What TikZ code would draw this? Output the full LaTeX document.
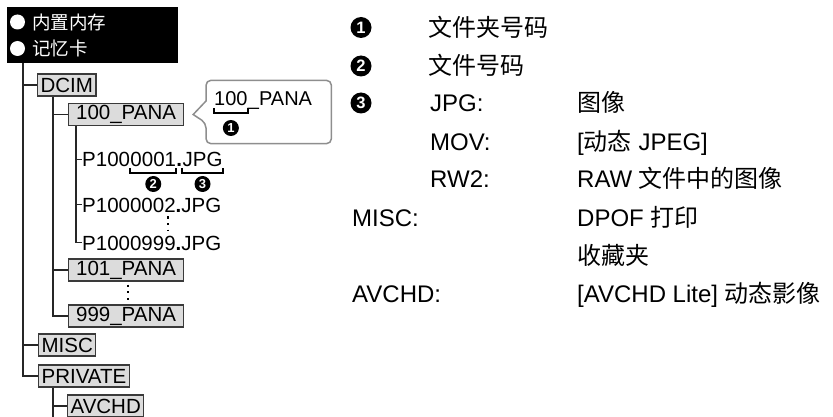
\documentclass[tikz,border=0pt]{standalone}
\usepackage{fontspec}
\setmainfont{Liberation Sans}
\newfontfamily\cjk{Noto Sans CJK SC}
\usetikzlibrary{positioning}
\definecolor{boxgray}{HTML}{DCDCDC}
\definecolor{edgegray}{HTML}{3A3A3A}
\definecolor{callgray}{HTML}{8E8E8E}
\newcommand{\fsz}[1]{\fontsize{#1}{#1}\selectfont}

\begin{document}
\begin{tikzpicture}[
  x=1pt, y=1pt,
  tree/.style={line width=1.1pt, draw=black!85},
  folder/.style={draw=edgegray, fill=boxgray, line width=1.2pt, inner xsep=3pt, inner ysep=0pt, minimum height=22pt, anchor=west, font=\fsz{20.5}},
  pana/.style={folder, minimum width=115pt},
  fname/.style={inner sep=0pt, anchor=base west, font=\fsz{20.5}},
  numsm/.style={circle, fill=black, text=white, inner sep=0pt, minimum size=16pt, font=\fsz{13}\bfseries},
  numbig/.style={circle, fill=black, text=white, inner sep=0pt, minimum size=21pt, font=\fsz{16.5}\bfseries},
  brk/.style={line width=1.9pt},
  vdots/.style={line width=2.2pt, dash pattern=on 2.2pt off 4.4pt},
  lbl/.style={inner sep=0pt, anchor=base west, font=\fsz{24}},
  hdrtxt/.style={inner sep=0pt, anchor=west, text=white, font=\fsz{18.5}\cjk},
  hdrdot/.style={circle, fill=white, inner sep=0pt, minimum size=15pt},
  callout/.style={draw=callgray, line width=1.5pt, fill=white}
]
\useasboundingbox (0,0) rectangle (833,-417);

% header
\node[fill=black, minimum width=171pt, minimum height=56pt, inner sep=0pt, anchor=north west] (hdr) at (7,-7) {};
\node[hdrdot] (dot1) at (17.5,-22) {};
\node[hdrdot] (dot2) at (17.5,-48.5) {};
\node[hdrtxt] (mem) at (32,-22) {内置内存};
\node[hdrtxt] (card) at (32,-48.5) {记忆卡};

% folders
\node[folder] (dcim) at (37,-85) {DCIM};
\node[pana] (p100) at (68,-114.5) {100\_PANA};
\node[pana] (p101) at (68,-270) {101\_PANA};
\node[pana] (p999) at (68,-316) {999\_PANA};
\node[folder] (misc) at (38,-345) {MISC};
\node[folder] (priv) at (38,-376) {PRIVATE};
\node[folder] (avchd) at (67,-406) {AVCHD};

% files
\node[fname] (f1a) at (82,-167) {P100};
\node[fname] (f1b) at (f1a.base east) {0001};
\node[fname, font=\fsz{20.5}\bfseries] (f1c) at (f1b.base east) {.};
\node[fname] (f1d) at (f1c.base east) {JPG};
\node[fname] (f2) at (82,-212) {P1000002{\bfseries.}JPG};
\node[fname] (f3) at (82,-250) {P1000999{\bfseries.}JPG};

% tree
\coordinate (t0) at ([xshift=16pt]hdr.south west);
\coordinate (t1) at ([xshift=16pt]dcim.south west);
\coordinate (t2) at ([xshift=8pt]p100.south west);
\coordinate (t3) at ([xshift=15pt]priv.south west);
\coordinate (bot) at (0,-417);
\draw[tree] (t0) |- (priv.west);
\draw[tree] (dcim.west -| t0) -- (dcim.west);
\draw[tree] (misc.west -| t0) -- (misc.west);
\draw[tree] (t1) |- (p999.west);
\draw[tree] (p100.west -| t1) -- (p100.west);
\draw[tree] (p101.west -| t1) -- (p101.west);
\draw[tree] (t2) |- (f3.west);
\draw[tree] (f1a.west -| t2) -- (f1a.west);
\draw[tree] (f2.west -| t2) -- (f2.west);
\draw[tree] (t3) -- (t3 |- bot);
\draw[tree] (avchd.west -| t3) -- (avchd.west);

\draw[vdots] ([xshift=86pt,yshift=-4pt]f2.south west) -- ([xshift=86pt,yshift=4pt]f3.north west);
\draw[vdots] ([xshift=60pt,yshift=-3pt]p101.south west) -- ([xshift=60pt,yshift=3pt]p999.north west);

\draw[brk] ([yshift=-1pt]f1b.base west) |- ([yshift=-6pt]f1b.base) -| ([yshift=-1pt]f1b.base east);
\draw[brk] ([yshift=-1pt]f1d.base west) |- ([yshift=-6pt]f1d.base) -| ([yshift=-1pt]f1d.base east);
\node[numsm] (n2) at ([yshift=-17pt]f1b.base) {2};
\node[numsm] (n3) at ([yshift=-17pt]f1d.base) {3};

% callout
\node[minimum width=125pt, minimum height=63pt, inner sep=0pt, anchor=west] (cb) at (206,-112) {};
\draw[callout] ([yshift=11pt]cb.west) [rounded corners=5pt] |- (cb.north east) |- (cb.south west) -- ([yshift=-11pt]cb.west) [sharp corners] -- ([xshift=9pt]p100.east) -- cycle;
\node[fname, font=\fsz{20}] (c1a) at (214,-106) {100};
\node[fname, font=\fsz{20}] (c1b) at (c1a.base east) {\_PANA};
\draw[brk] ([yshift=-2pt]c1a.base west) |- ([yshift=-7pt]c1a.base) -| ([yshift=-2pt]c1a.base east);
\node[numsm] (n1) at ([yshift=-22pt]c1a.base) {1};

% legend
\node[numbig] (k1) at (361,-27.5) {1};
\node[numbig] (k2) at (361,-66) {2};
\node[numbig] (k3) at (361,-103) {3};
\node[lbl] (d1) at (428,-37) {\cjk 文件夹号码};
\node[lbl] (d2) at (428,-75) {\cjk 文件号码};
\node[lbl] (jpg) at (430,-112) {JPG:};
\node[lbl] (mov) at (430,-150) {MOV:};
\node[lbl] (rw2) at (430,-188) {RW2:};
\node[lbl] (miscl) at (352,-226) {MISC:};
\node[lbl] (avchdl) at (352,-302) {AVCHD:};
\node[lbl] (jpgd) at (577,-112) {\cjk 图像};
\node[lbl] (movd) at (577,-150) {[{\cjk 动态} JPEG]};
\node[lbl] (rw2d) at (577,-188) {RAW {\cjk 文件中的图像}};
\node[lbl] (miscd) at (577,-226) {DPOF {\cjk 打印}};
\node[lbl] (favd) at (577,-264) {\cjk 收藏夹};
\node[lbl] (avchdd) at (577,-302) {[AVCHD Lite] {\cjk 动态影像}};

\end{tikzpicture}
\end{document}
